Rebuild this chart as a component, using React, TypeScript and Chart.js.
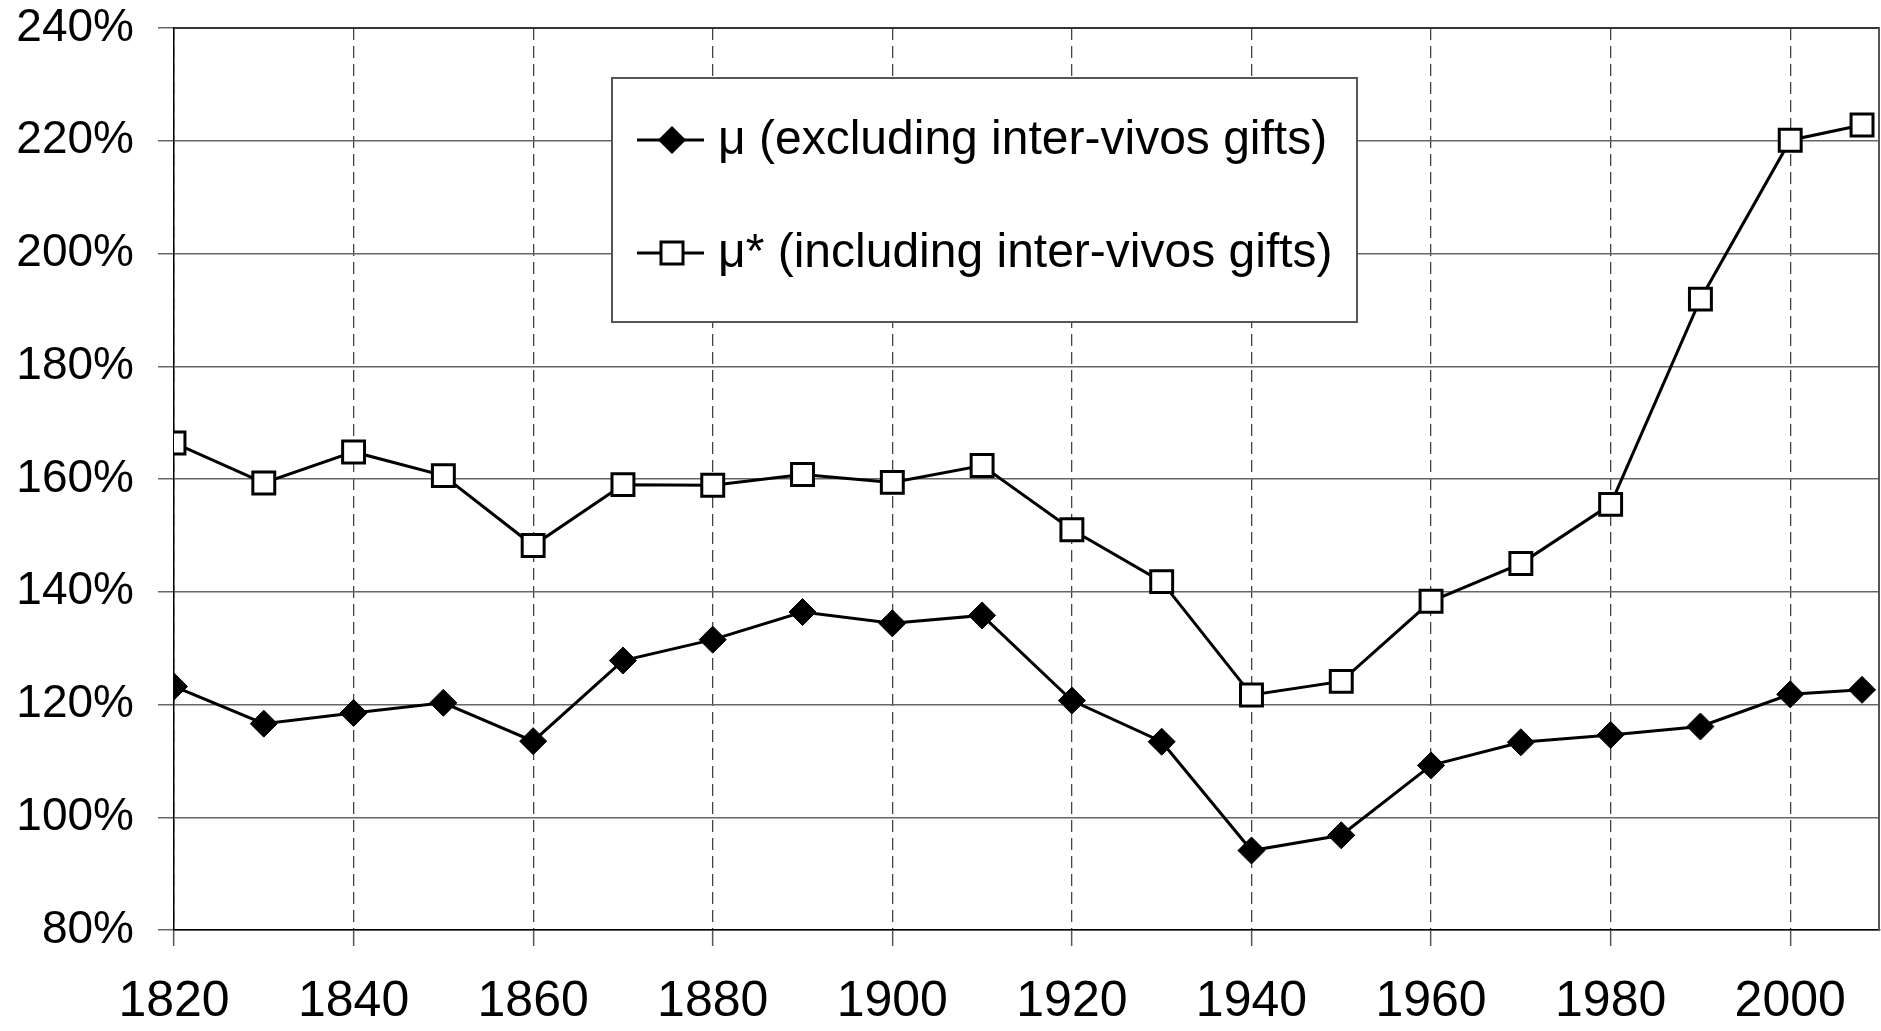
import React, { useEffect, useRef } from 'react';
import { Chart, registerables } from 'chart.js';

Chart.register(...registerables);

const years = [1820, 1830, 1840, 1850, 1860, 1870, 1880, 1890, 1900, 1910, 1920, 1930, 1940, 1950, 1960, 1970, 1980, 1990, 2000, 2008];
const muExcluding = [123.2, 116.6, 118.5, 120.3, 113.5, 127.8, 131.5, 136.4, 134.4, 135.8, 120.7, 113.4, 94.1, 96.8, 109.2, 113.3, 114.6, 116.1, 121.8, 122.6];
const muIncluding = [166.4, 159.3, 164.8, 160.6, 148.2, 159.0, 158.9, 160.8, 159.4, 162.4, 151.0, 141.8, 121.7, 124.1, 138.3, 145.0, 155.5, 191.9, 220.1, 222.8];
const seriesLabels = ['μ (excluding inter-vivos gifts)', 'μ* (including inter-vivos gifts)'];
const xRange = [1820, 2010];
const yRange = [80, 240];

const FONT = '"Liberation Sans", Arial, Helvetica, sans-serif';

function drawMarker(ctx: CanvasRenderingContext2D, style: string, x: number, y: number) {
  ctx.save();
  ctx.strokeStyle = '#000';
  if (style === 'rectRot') {
    const r = 13.5;
    ctx.beginPath();
    ctx.moveTo(x - r, y);
    ctx.lineTo(x, y - r);
    ctx.lineTo(x + r, y);
    ctx.lineTo(x, y + r);
    ctx.closePath();
    ctx.fillStyle = '#000';
    ctx.fill();
    ctx.lineWidth = 1;
    ctx.stroke();
  } else {
    const h = 11;
    ctx.fillStyle = '#fff';
    ctx.fillRect(x - h, y - h, 2 * h, 2 * h);
    ctx.lineWidth = 3;
    ctx.strokeRect(x - h, y - h, 2 * h, 2 * h);
  }
  ctx.restore();
}

const framePlugin = {
  id: 'framePlugin',
  afterDatasetsDraw(chart: any) {
    const { ctx, chartArea } = chart;
    ctx.save();
    ctx.strokeStyle = '#333';
    ctx.lineWidth = 2;
    ctx.beginPath();
    ctx.moveTo(chartArea.left, chartArea.top);
    ctx.lineTo(chartArea.right - 1, chartArea.top);
    ctx.stroke();
    ctx.strokeStyle = '#555';
    ctx.beginPath();
    ctx.moveTo(chartArea.right - 1, chartArea.top);
    ctx.lineTo(chartArea.right - 1, chartArea.bottom);
    ctx.stroke();
    ctx.restore();
  },
};

const legendBoxPlugin = {
  id: 'legendBox',
  afterDraw(chart: any) {
    const { ctx, chartArea } = chart;
    const x0 = chartArea.left + 438;
    const y0 = chartArea.top + 50;
    const w = 745;
    const h = 244;
    ctx.save();
    ctx.fillStyle = '#fff';
    ctx.fillRect(x0, y0, w, h);
    ctx.strokeStyle = '#555';
    ctx.lineWidth = 2;
    ctx.strokeRect(x0, y0, w, h);
    chart.data.datasets.forEach((ds: any, i: number) => {
      const cy = y0 + 62 + i * 113;
      const cx = x0 + 60;
      ctx.strokeStyle = '#000';
      ctx.lineWidth = 3;
      ctx.beginPath();
      ctx.moveTo(cx - 35, cy);
      ctx.lineTo(cx + 32, cy);
      ctx.stroke();
      drawMarker(ctx, ds.pointStyle, cx, cy);
      ctx.fillStyle = '#000';
      ctx.font = `48px ${FONT}`;
      ctx.textAlign = 'left';
      ctx.textBaseline = 'middle';
      ctx.fillText(ds.label, x0 + 106, cy + 1);
    });
    ctx.restore();
  },
};

export default function App() {
  const canvasRef = useRef<HTMLCanvasElement | null>(null);

  useEffect(() => {
    const canvas = canvasRef.current;
    if (!canvas) return;
    const chart = new Chart(canvas, {
      type: 'line',
      data: {
        datasets: [
          {
            label: seriesLabels[0],
            data: years.map((y, i) => ({ x: y, y: muExcluding[i] })),
            borderColor: '#000',
            borderWidth: 3,
            backgroundColor: '#000',
            pointStyle: 'rectRot',
            pointRadius: 13.5,
            pointHoverRadius: 13.5,
            pointBackgroundColor: '#000',
            pointBorderColor: '#000',
            pointBorderWidth: 1,
            tension: 0,
            fill: false,
          },
          {
            label: seriesLabels[1],
            data: years.map((y, i) => ({ x: y, y: muIncluding[i] })),
            borderColor: '#000',
            borderWidth: 3,
            backgroundColor: '#fff',
            pointStyle: 'rect',
            pointRadius: 15.5,
            pointHoverRadius: 15.5,
            pointBackgroundColor: '#fff',
            pointBorderColor: '#000',
            pointBorderWidth: 3,
            tension: 0,
            fill: false,
          },
        ],
      },
      options: {
        responsive: false,
        animation: false,
        events: [],
        layout: { autoPadding: false, padding: { top: 28, right: 1, left: 0, bottom: 0 } },
        plugins: {
          legend: { display: false },
          tooltip: { enabled: false },
          title: { display: false },
        },
        scales: {
          x: {
            type: 'linear',
            min: xRange[0],
            max: xRange[1],
            afterFit: (scale: any) => {
              scale.height = 101;
              scale.paddingLeft = 0;
              scale.paddingRight = 0;
              scale.paddingTop = 0;
              scale.paddingBottom = 0;
            },
            ticks: {
              stepSize: 20,
              includeBounds: false,
              autoSkip: false,
              maxRotation: 0,
              padding: 26,
              color: '#000',
              font: { family: FONT, size: 50 },
              callback: (v: any) => String(v),
            },
            grid: {
              color: '#444',
              lineWidth: 1.3,
              tickLength: 16,
              tickColor: '#555',
              tickWidth: 1.5,
              tickBorderDash: [],
            },
            border: { display: true, color: '#000', width: 1.5, dash: [12, 6] },
          },
          y: {
            type: 'linear',
            min: yRange[0],
            max: yRange[1],
            afterFit: (scale: any) => {
              scale.width = 174;
              scale.paddingLeft = 0;
              scale.paddingRight = 0;
              scale.paddingTop = 0;
              scale.paddingBottom = 0;
            },
            ticks: {
              stepSize: 20,
              padding: 24,
              color: '#000',
              font: { family: FONT, size: 46 },
              callback: (v: any) => `${v}%`,
            },
            grid: {
              color: '#666',
              lineWidth: 1.5,
              tickLength: 16,
              tickColor: '#666',
              tickWidth: 1.5,
            },
            border: { display: true, color: '#000', width: 1.5 },
          },
        },
      },
      plugins: [framePlugin, legendBoxPlugin],
    } as any);
    return () => chart.destroy();
  }, []);

  return (
    <div style={{ position: 'absolute', left: 0, top: 0, width: 1881, height: 1031, background: '#fff' }}>
      <canvas ref={canvasRef} width={1881} height={1031} style={{ display: 'block' }} />
    </div>
  );
}
